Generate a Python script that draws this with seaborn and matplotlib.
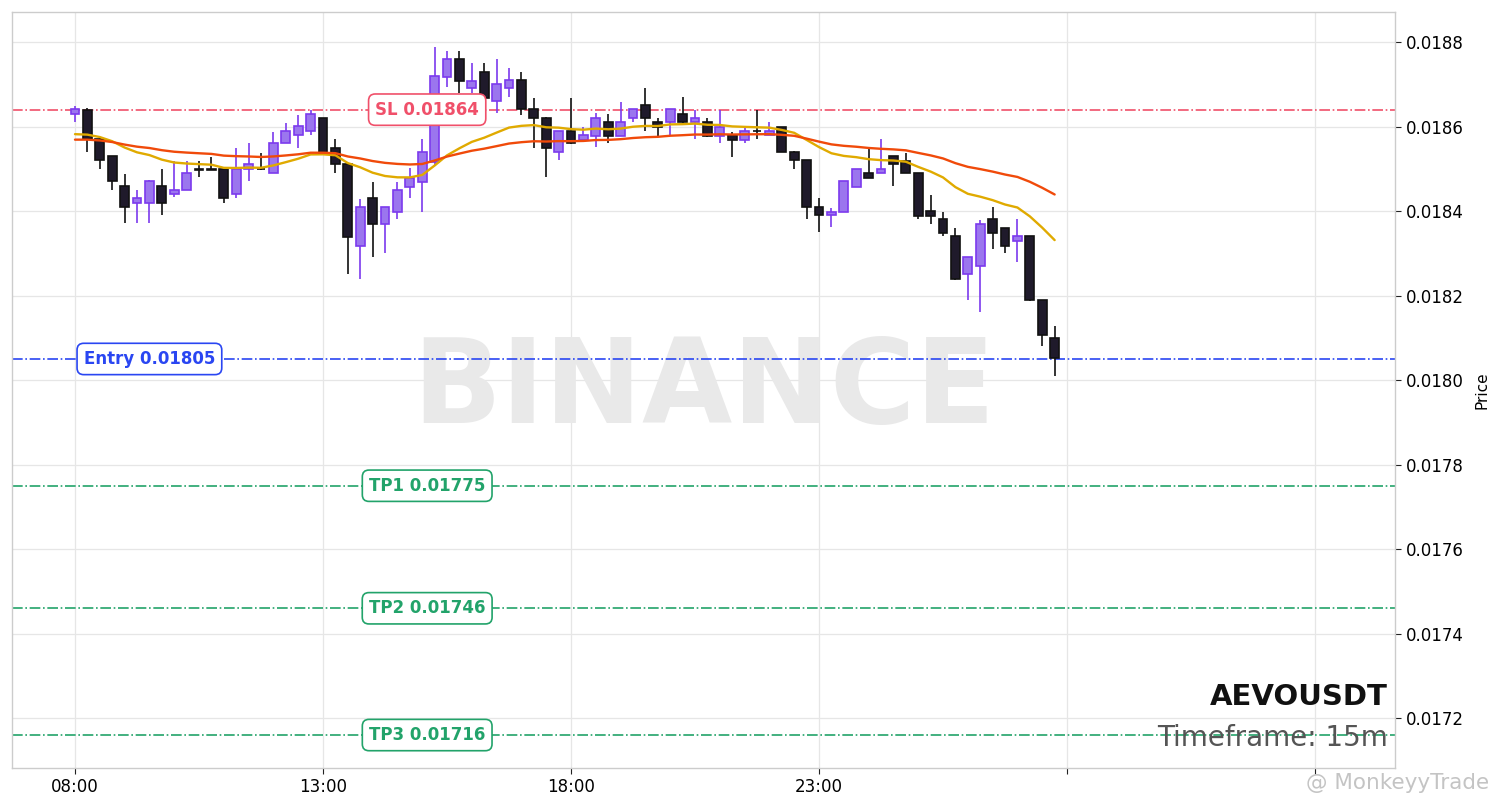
import numpy as np
import pandas as pd
import matplotlib
matplotlib.use("Agg")
import matplotlib.pyplot as plt
import seaborn as sns

# --- данные свечей (15m) ---
opens = [0.018630, 0.018640, 0.018570, 0.018530, 0.018459, 0.018419, 0.018419, 0.018459, 0.018440, 0.018450,
         0.018499, 0.018499, 0.018499, 0.018440, 0.018499, 0.018500, 0.018490, 0.018561, 0.018580, 0.018589,
         0.018620, 0.018549, 0.018511, 0.018317, 0.018431, 0.018369, 0.018398, 0.018457, 0.018469, 0.018516,
         0.018717, 0.018760, 0.018691, 0.018729, 0.018660, 0.018691, 0.018710, 0.018641, 0.018620, 0.018540,
         0.018589, 0.018568, 0.018578, 0.018611, 0.018578, 0.018620, 0.018651, 0.018611, 0.018611, 0.018630,
         0.018611, 0.018611, 0.018578, 0.018580, 0.018568, 0.018590, 0.018580, 0.018599, 0.018540, 0.018521,
         0.018410, 0.018390, 0.018398, 0.018457, 0.018490, 0.018490, 0.018530, 0.018518, 0.018490, 0.018400,
         0.018381, 0.018341, 0.018251, 0.018270, 0.018381, 0.018360, 0.018329, 0.018341, 0.018189, 0.018099]
highs = [0.018648, 0.018643, 0.018572, 0.018530, 0.018488, 0.018450, 0.018473, 0.018499, 0.018518, 0.018518,
         0.018518, 0.018528, 0.018500, 0.018549, 0.018561, 0.018537, 0.018587, 0.018608, 0.018627, 0.018639,
         0.018621, 0.018570, 0.018512, 0.018428, 0.018469, 0.018410, 0.018469, 0.018502, 0.018570, 0.018788,
         0.018779, 0.018779, 0.018750, 0.018750, 0.018760, 0.018738, 0.018729, 0.018667, 0.018622, 0.018590,
         0.018667, 0.018599, 0.018632, 0.018630, 0.018658, 0.018642, 0.018691, 0.018620, 0.018642, 0.018670,
         0.018639, 0.018620, 0.018639, 0.018587, 0.018599, 0.018639, 0.018611, 0.018600, 0.018541, 0.018522,
         0.018431, 0.018407, 0.018472, 0.018500, 0.018549, 0.018570, 0.018531, 0.018537, 0.018491, 0.018438,
         0.018398, 0.018360, 0.018292, 0.018379, 0.018409, 0.018361, 0.018381, 0.018342, 0.018190, 0.018128]
lows = [0.018611, 0.018540, 0.018499, 0.018450, 0.018372, 0.018372, 0.018372, 0.018390, 0.018433, 0.018450,
        0.018480, 0.018497, 0.018419, 0.018431, 0.018471, 0.018498, 0.018490, 0.018560, 0.018549, 0.018580,
        0.018535, 0.018490, 0.018251, 0.018239, 0.018291, 0.018301, 0.018381, 0.018431, 0.018398, 0.018509,
        0.018693, 0.018679, 0.018679, 0.018650, 0.018632, 0.018670, 0.018627, 0.018549, 0.018480, 0.018521,
        0.018558, 0.018565, 0.018551, 0.018561, 0.018577, 0.018611, 0.018589, 0.018578, 0.018580, 0.018608,
        0.018570, 0.018576, 0.018561, 0.018528, 0.018561, 0.018570, 0.018579, 0.018539, 0.018499, 0.018381,
        0.018350, 0.018362, 0.018397, 0.018456, 0.018478, 0.018489, 0.018459, 0.018489, 0.018381, 0.018369,
        0.018341, 0.018238, 0.018189, 0.018161, 0.018310, 0.018301, 0.018279, 0.018188, 0.018080, 0.018009]
closes = [0.018641, 0.018570, 0.018521, 0.018471, 0.018409, 0.018431, 0.018471, 0.018419, 0.018450, 0.018490,
          0.018497, 0.018498, 0.018431, 0.018499, 0.018511, 0.018499, 0.018561, 0.018589, 0.018601, 0.018630,
          0.018537, 0.018511, 0.018338, 0.018409, 0.018369, 0.018409, 0.018450, 0.018478, 0.018540, 0.018720,
          0.018760, 0.018708, 0.018708, 0.018667, 0.018701, 0.018710, 0.018641, 0.018620, 0.018549, 0.018589,
          0.018561, 0.018580, 0.018620, 0.018578, 0.018611, 0.018641, 0.018620, 0.018599, 0.018641, 0.018611,
          0.018620, 0.018578, 0.018599, 0.018568, 0.018589, 0.018589, 0.018589, 0.018540, 0.018521, 0.018409,
          0.018390, 0.018398, 0.018471, 0.018499, 0.018478, 0.018499, 0.018511, 0.018490, 0.018388, 0.018388,
          0.018348, 0.018239, 0.018291, 0.018369, 0.018348, 0.018317, 0.018341, 0.018189, 0.018106, 0.018052]

# стартовые значения EMA (прочитаны на первой свече)
ema_fast_start = 0.018582
ema_slow_start = 0.018569

symbol = "AEVOUSDT"
timeframe = "15m"
entry = 0.01805
sl = 0.01864
tps = [0.01775, 0.01746, 0.01716]
tick_pos = [0, 20, 40, 60, 80, 100]
tick_labels = ["08:00", "13:00", "18:00", "23:00", "", ""]

df = pd.DataFrame({"open": opens, "high": highs, "low": lows, "close": closes})
df["idx"] = np.arange(len(df))

def ema(values, span, start):
    a = 2 / (span + 1)
    out = [start]
    for v in values[1:]:
        out.append(out[-1] + a * (v - out[-1]))
    return out

df["ema20"] = ema(closes, 20, ema_fast_start)
df["ema50"] = ema(closes, 50, ema_slow_start)

sns.set_style("whitegrid")
plt.rcParams["font.family"] = ["DejaVu Sans"]

fig = plt.figure(figsize=(15.01, 8.08), dpi=100)
ax = fig.add_axes([0.008, 0.0495, 0.9214, 0.9356])

# свечи
up = df["close"] >= df["open"]
up_c, up_e = "#9b76ee", "#7c3aed"
dn_c, dn_e = "#1f1a2b", "#111111"
for sel, fc, ec in [(up, up_c, up_e), (~up, dn_c, dn_e)]:
    d = df[sel]
    ax.vlines(d["idx"], d["low"], d["high"], color=ec, lw=1.2, zorder=3)
    body = (d["close"] - d["open"]).abs().clip(lower=1e-7)
    bottom = d[["open", "close"]].min(axis=1)
    ax.bar(d["idx"], body, bottom=bottom, width=0.72, color=fc, edgecolor=ec,
           linewidth=1.2, zorder=4)

sns.lineplot(data=df, x="idx", y="ema20", ax=ax, color="#e0aa00", lw=1.7, zorder=5)
sns.lineplot(data=df, x="idx", y="ema50", ax=ax, color="#f04a0a", lw=1.7, zorder=5)

# уровни
sl_col, en_col, tp_col = "#f0506a", "#2a46f2", "#22a36a"
ax.axhline(sl, color=sl_col, ls="-.", lw=1.2, zorder=2)
ax.axhline(entry, color=en_col, ls="-.", lw=1.2, zorder=2)
for tp in tps:
    ax.axhline(tp, color=tp_col, ls="-.", lw=1.2, zorder=2)

def tag(x, y, s, col):
    ax.text(x, y, s, color=col, fontsize=12, fontweight="bold", ha="center", va="center",
            zorder=7, bbox=dict(boxstyle="round,pad=0.4", fc="white", ec=col, lw=1.2))

tag(28.4, sl, f"SL {sl:.5f}", sl_col)
tag(6.0, entry, f"Entry {entry:.5f}", en_col)
for k, tp in enumerate(tps):
    tag(28.4, tp, f"TP{k + 1} {tp:.5f}", tp_col)

# водяной знак и подписи
ax.text(0.5, 0.50, "BINANCE", transform=ax.transAxes, fontsize=84, fontweight="bold",
        color="#e9e9e9", ha="center", va="center", zorder=1)
ax.text(0.995, 0.083, symbol, transform=ax.transAxes, fontsize=21, fontweight="bold",
        color="#111111", ha="right", va="baseline", zorder=8)
ax.text(0.995, 0.029, f"Timeframe: {timeframe}", transform=ax.transAxes, fontsize=20,
        color="#555555", ha="right", va="baseline", zorder=8)
fig.text(0.992, 0.031, "@ MonkeyyTrade", fontsize=15.5, color="#c4c4c4", ha="right", va="center")

ax.set_xlim(-5.08, 106.45)
ax.set_ylim(0.017082, 0.018871)
ax.set_xticks(tick_pos)
ax.set_xticklabels(tick_labels)
ax.set_yticks(np.arange(0.0172, 0.01881, 0.0002))
ax.yaxis.set_major_formatter(matplotlib.ticker.FormatStrFormatter("%.4f"))
ax.yaxis.tick_right()
ax.yaxis.set_label_position("right")
ax.set_ylabel("Price", fontsize=11, labelpad=8, color="black")
ax.set_xlabel("")
ax.tick_params(axis="both", labelsize=12, length=4, color="#222222", labelcolor="black",
               direction="out", left=False, right=True, bottom=True)
ax.grid(True, color="#e6e6e6", lw=0.9)
for sp in ax.spines.values():
    sp.set_color("#cccccc")
    sp.set_linewidth(1)
if ax.get_legend():
    ax.get_legend().remove()

fig.savefig("out.png", dpi=100)
